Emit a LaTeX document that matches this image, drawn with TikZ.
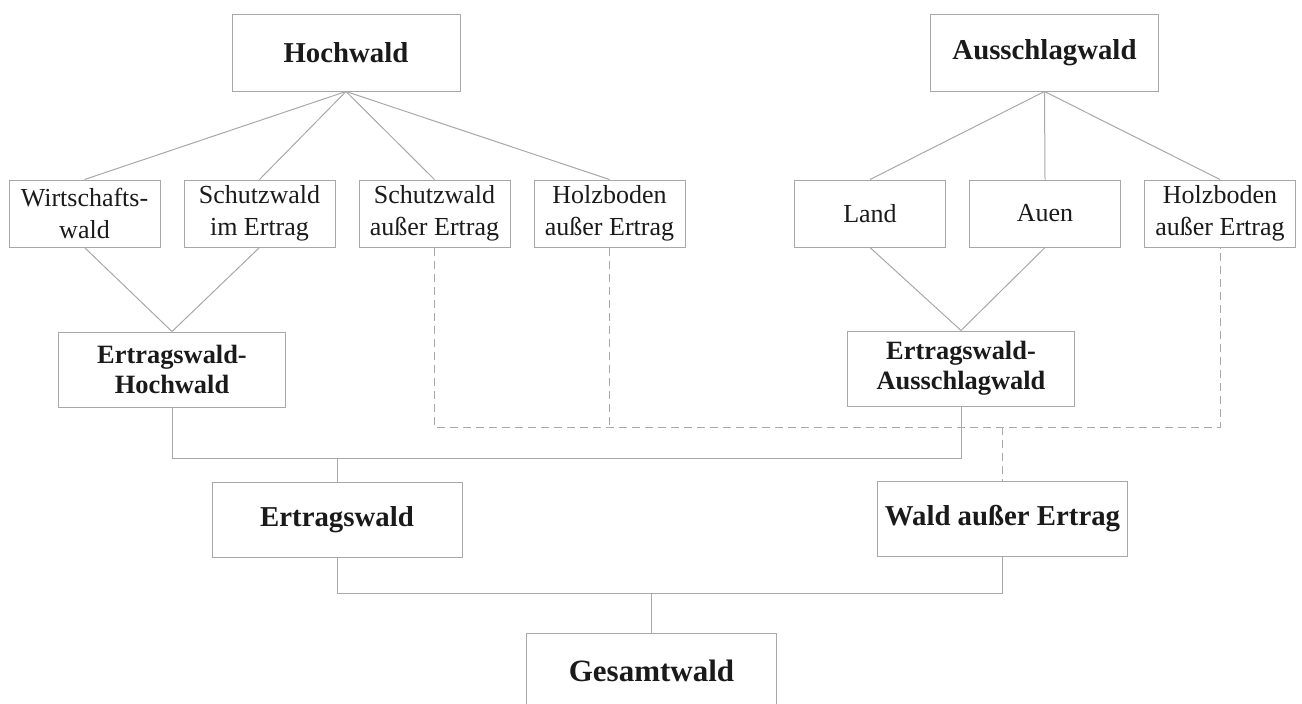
\documentclass[tikz,border=0pt]{standalone}
\usepackage{fontspec}
\setmainfont{Liberation Serif}
\usepackage{tikz}
\usetikzlibrary{positioning}

\definecolor{linegray}{HTML}{A8A8A8}
\definecolor{inkgray}{HTML}{1A1A1A}

\tikzset{
  box/.style={draw=linegray, line width=0.5pt, inner sep=1pt, align=center,
    text=inkgray, minimum width=75.5pt, minimum height=33.5pt,
    font=\fontsize{13}{16}\selectfont},
  headbox/.style={box, minimum width=114pt, minimum height=38.5pt,
    font=\fontsize{14.4}{17}\selectfont\bfseries},
  sumbox/.style={box, minimum width=113.5pt, minimum height=37.5pt,
    font=\fontsize{13.2}{15}\selectfont\bfseries},
  totalbox/.style={box, minimum width=125pt, minimum height=37.5pt,
    font=\fontsize{14.4}{17}\selectfont\bfseries},
  link/.style={draw=linegray, line width=0.5pt},
  dashlink/.style={link, dash pattern=on 4pt off 2.5pt}
}

\begin{document}
\begin{tikzpicture}[x=0.5pt, y=-0.5pt, node distance=11.5pt]
\useasboundingbox (0,0) rectangle (1302,703);

\node[headbox] (hoch) at (346,52.5) {Hochwald};
\node[headbox] (aus) at (1044.5,52.5) {Ausschlagwald};

\node[box] (wirt) at (84.5,213.5) {Wirtschafts-\\wald};
\node[box, right=of wirt] (schutzE) {Schutzwald\\im Ertrag};
\node[box, right=of schutzE] (schutzA) {Schutzwald\\außer Ertrag};
\node[box, right=of schutzA] (holzL) {Holzboden\\außer Ertrag};

\node[box] (land) at (870,213.5) {Land};
\node[box, right=of land] (auen) {Auen};
\node[box, right=of auen] (holzR) {Holzboden\\außer Ertrag};

\node[sumbox] (ertH) at (172,369.5) {Ertragswald-\\Hochwald};
\node[sumbox] (ertA) at (961,368.5) {Ertragswald-\\Ausschlagwald};

\node[totalbox] (ertrag) at (337,519.5) {Ertragswald};
\node[totalbox] (waeE) at (1002.5,519) {Wald außer Ertrag};
\node[totalbox, font=\fontsize{15.5}{18}\selectfont\bfseries] (gesamt) at (651.5,670.5) {Gesamtwald};

\coordinate (busE) at ([yshift=11.5pt]ertrag.north);
\coordinate (busA) at ([yshift=27pt]waeE.north);
\coordinate (busG) at ([yshift=19.5pt]gesamt.north);

\draw[link] (hoch.south) -- (wirt.north);
\draw[link] (hoch.south) -- (schutzE.north);
\draw[link] (hoch.south) -- (schutzA.north);
\draw[link] (hoch.south) -- (holzL.north);
\draw[link] (aus.south) -- (land.north);
\draw[link] (aus.south) -- (auen.north);
\draw[link] (aus.south) -- (holzR.north);

\draw[link] (wirt.south) -- (ertH.north);
\draw[link] (schutzE.south) -- (ertH.north);
\draw[link] (land.south) -- (ertA.north);
\draw[link] (auen.south) -- (ertA.north);

\draw[dashlink] (schutzA.south) |- (busA) -| (holzR.south);
\draw[dashlink] (holzL.south) -- (holzL.south |- busA);
\draw[dashlink] (busA) -- (waeE.north);

\draw[link] (ertH.south) |- (busE) -| (ertA.south);
\draw[link] (busE) -- (ertrag.north);

\draw[link] (ertrag.south) |- (busG) -| (waeE.south);
\draw[link] (busG) -- (gesamt.north);
\end{tikzpicture}
\end{document}
